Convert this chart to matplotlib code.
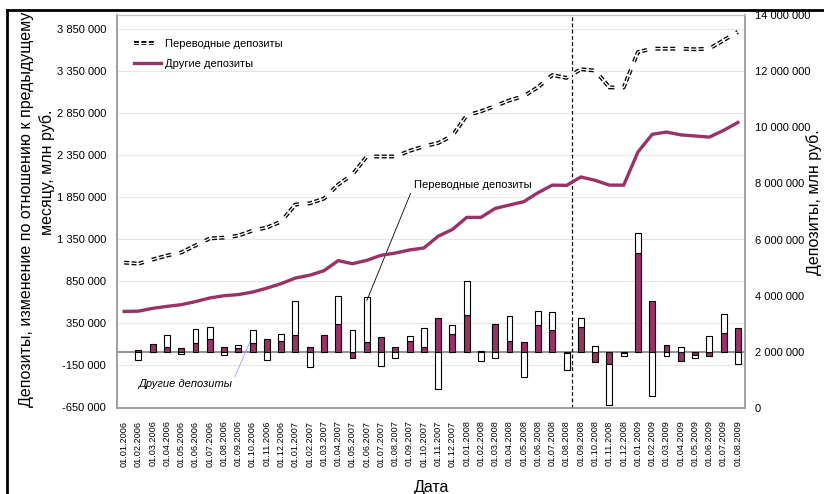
import matplotlib
matplotlib.use("Agg")
import matplotlib.pyplot as plt
import numpy as np
from matplotlib.lines import Line2D
from matplotlib.ticker import FuncFormatter

plt.rcParams['font.family'] = ['Liberation Sans', 'DejaVu Sans']

dates = ["01.01.2006", "01.02.2006", "01.03.2006", "01.04.2006", "01.05.2006", "01.06.2006",
         "01.07.2006", "01.08.2006", "01.09.2006", "01.10.2006", "01.11.2006", "01.12.2006",
         "01.01.2007", "01.02.2007", "01.03.2007", "01.04.2007", "01.05.2007", "01.06.2007",
         "01.07.2007", "01.08.2007", "01.09.2007", "01.10.2007", "01.11.2007", "01.12.2007",
         "01.01.2008", "01.02.2008", "01.03.2008", "01.04.2008", "01.05.2008", "01.06.2008",
         "01.07.2008", "01.08.2008", "01.09.2008", "01.10.2008", "01.11.2008", "01.12.2008",
         "01.01.2009", "01.02.2009", "01.03.2009", "01.04.2009", "01.05.2009", "01.06.2009",
         "01.07.2009", "01.08.2009"]

# monthly change, left axis (млн руб.)
drugie_change = [0, 32000, 95000, 63000, 50000, 111000, 158000, 63000, 45000, 111000, 158000, 139000,
                 206000, 63000, 206000, 333000, -71000, 127000, 186000, 67000, 139000, 67000, 404000, 218000,
                 439000, 12000, 333000, 131000, 123000, 325000, 261000, -15000, 305000, -115000, -146000, -5000,
                 1184000, 610000, 87000, -99000, -28000, -44000, 226000, 293000]
perevod_change = [0, -87000, 0, 143000, -20000, 166000, 143000, -32000, 45000, 158000, -87000, 79000,
                  400000, -178000, 0, 337000, 265000, 534000, -170000, -71000, 55000, 218000, -439000, 111000,
                  408000, -100000, -63000, 297000, -293000, 172000, 218000, -200000, 103000, 75000, -483000, -45000,
                  238000, -527000, -44000, 63000, -36000, 194000, 234000, -135000]

# levels, right axis (млн руб.)
perevod_level = [5180000, 5140000, 5290000, 5430000, 5540000, 5790000, 6040000, 6070000, 6140000, 6320000,
                 6430000, 6640000, 7250000, 7290000, 7460000, 7960000, 8320000, 8960000, 8960000, 8960000,
                 9160000, 9320000, 9440000, 9700000, 10420000, 10570000, 10760000, 10960000, 11110000, 11430000,
                 11860000, 11760000, 12070000, 12020000, 11420000, 11420000, 12680000, 12800000, 12800000, 12800000,
                 12780000, 12800000, 13100000, 13400000]
drugie_level = [3440000, 3450000, 3550000, 3620000, 3680000, 3790000, 3920000, 4000000, 4040000, 4130000,
                4270000, 4430000, 4630000, 4730000, 4890000, 5250000, 5140000, 5260000, 5440000, 5520000,
                5630000, 5700000, 6120000, 6360000, 6790000, 6790000, 7110000, 7230000, 7350000, 7670000,
                7940000, 7930000, 8230000, 8110000, 7940000, 7940000, 9120000, 9750000, 9830000, 9730000,
                9690000, 9650000, 9890000, 10170000]

left_ticks = [-650000, -150000, 350000, 850000, 1350000, 1850000, 2350000, 2850000, 3350000, 3850000]
right_ticks = [0, 2000000, 4000000, 6000000, 8000000, 10000000, 12000000, 14000000]

maroon = "#993366"
spine_c = "#a0a0a0"

def fmt(v, pos):
    return f"{int(round(v)):,}".replace(",", " ")

W, H = 824, 494
fig = plt.figure(figsize=(W / 100, H / 100), dpi=100)
ax = fig.add_axes([117 / W, 1 - 408 / H, (745 - 117) / W, (408 - 15) / H])
ax2 = ax.twinx()

x = np.arange(len(dates))
d = np.array(drugie_change, dtype=float)
p = np.array(perevod_change, dtype=float)
# excel-style stacking: positives pile up, negatives pile down
p_bottom = np.where(p >= 0, np.maximum(d, 0), np.minimum(d, 0))

md = d != 0
mp = p != 0
bw = 0.42
ax.bar(x[md], d[md], width=bw, color=maroon, edgecolor="black", linewidth=0.8, zorder=3)
ax.bar(x[mp], p[mp], bottom=p_bottom[mp], width=bw, color="white", edgecolor="black", linewidth=0.8, zorder=3)
ax.axhline(0, color="#808080", lw=1.2, zorder=2)
ax.axvline(31.4, color="black", ls=(0, (3, 2)), lw=0.9, zorder=4)

ax.set_xlim(-0.5, len(dates) - 0.5)
ax.set_ylim(-665000, 4020000)
ax.set_yticks(left_ticks)
ax.yaxis.set_major_formatter(FuncFormatter(fmt))
ax.tick_params(axis="y", length=0, pad=8, labelsize=8)
ax.set_xticks(x)
ax.set_xticklabels(dates, rotation=90, fontsize=6.6)
ax.tick_params(axis="x", length=0, pad=9)
ax.yaxis.grid(True, color="#e6e6e6", lw=0.8, zorder=0)
ax.set_axisbelow(True)

ax2.set_ylim(0, 14000000)
ax2.set_yticks(right_ticks)
ax2.yaxis.set_major_formatter(FuncFormatter(fmt))
ax2.tick_params(axis="y", length=0, pad=7, labelsize=8)

l1 = ax2.plot(x, perevod_level, color="black", lw=2.8, ls=(0, (1.3, 0.6, 1.3, 0.6, 1.3, 2.2)))[0]
l1w = ax2.plot(x, perevod_level, color="white", lw=0.9)[0]
l2 = ax2.plot(x, drugie_level, color=maroon, lw=2.4, solid_joinstyle="miter")[0]

for a in (ax, ax2):
    for s in a.spines.values():
        s.set_color(spine_c)
        s.set_linewidth(1.2)
    a.spines["top"].set_linewidth(0.8)
    a.spines["top"].set_color("#c0c0c0")

ax2.legend([(l1, l1w), l2], ["Переводные депозиты", "Другие депозиты"], loc="upper left",
           bbox_to_anchor=(0.027, 0.94), frameon=False, fontsize=8, handlelength=2.4,
           handletextpad=0.4, labelspacing=0.9, borderpad=0, borderaxespad=0)

ax.annotate("Переводные депозиты", xy=(17, 615000), xytext=(20.3, 1990000), fontsize=8,
            ha="left", va="center",
            arrowprops=dict(arrowstyle="-", color="black", lw=0.6, relpos=(0, 0.5), shrinkA=1, shrinkB=0),
            zorder=6)
ax.annotate("Другие депозиты", xy=(8.8, 118000), xytext=(0.95, -382000), fontsize=8, style="italic",
            ha="left", va="center",
            arrowprops=dict(arrowstyle="-", color="#9999ff", lw=0.6, relpos=(1, 0.5), shrinkA=1, shrinkB=0),
            zorder=6)

fig.text(27 / W, 1 - 209 / H, "Депозиты, изменение по отношению к предыдущему", rotation=90,
         ha="center", va="center", fontsize=11.5)
fig.text(47 / W, 1 - 172 / H, "месяцу, млн руб.", rotation=90, ha="center", va="center", fontsize=11.5)
fig.text(814 / W, 1 - 202 / H, "Депозиты, млн руб.", rotation=90, ha="center", va="center", fontsize=11.5)
fig.text(432 / W, 1 - 487 / H, "Дата", ha="center", va="center", fontsize=11.5)

fig.add_artist(Line2D([7 / W, 1], [1 - 10 / H, 1 - 10 / H], color="black", lw=2))
fig.add_artist(Line2D([7 / W, 7 / W], [0, 1 - 10 / H], color="black", lw=2))

fig.savefig("out.png", dpi=100)
